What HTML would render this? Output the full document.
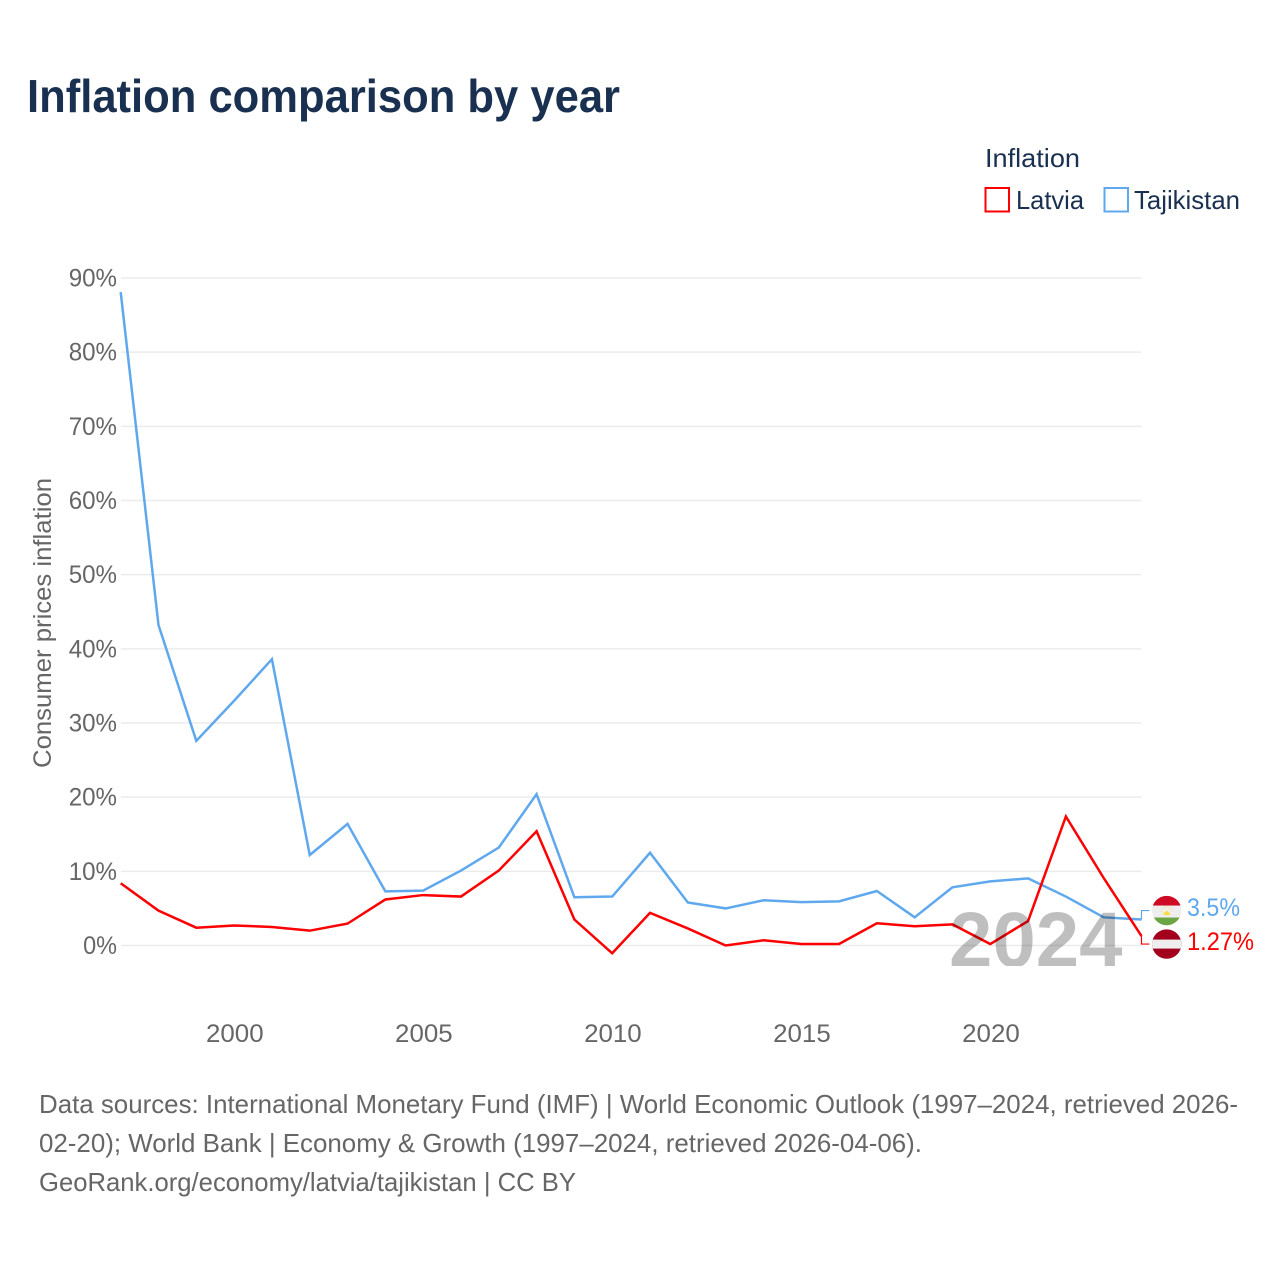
<!DOCTYPE html>
<html lang="en">
<head>
<meta charset="utf-8">
<title>Inflation comparison by year</title>
<style>
html,body{margin:0;padding:0;background:#fff;}
svg{display:block;font-family:"Liberation Sans",sans-serif;}
</style>
</head>
<body>
<svg id="chart" xmlns="http://www.w3.org/2000/svg" width="1280" height="1280" viewBox="0 0 1280 1280">
  <defs>
    <clipPath id="clip-watermark"><rect x="900" y="890" width="260" height="76"/></clipPath>
  </defs>
  <rect width="1280" height="1280" fill="#fff"/>
  <text x="27" y="112" font-size="46" font-weight="700" fill="#1a3050" textLength="593" lengthAdjust="spacingAndGlyphs">Inflation comparison by year</text>

  <g>
    <text x="985" y="167" font-size="26" fill="#1a3050" textLength="95" lengthAdjust="spacingAndGlyphs">Inflation</text>
    <g>
      <rect x="985.5" y="188" width="23.5" height="23.5" fill="none" stroke="#ff0000" stroke-width="2"/>
      <text x="1016" y="209" font-size="26" fill="#1a3050" textLength="68" lengthAdjust="spacingAndGlyphs">Latvia</text>
    </g>
    <g>
      <rect x="1104.5" y="188" width="23.5" height="23.5" fill="none" stroke="#5fa8ee" stroke-width="2"/>
      <text x="1134" y="209" font-size="26" fill="#1a3050" textLength="106" lengthAdjust="spacingAndGlyphs">Tajikistan</text>
    </g>
  </g>

  <text transform="translate(51 623) rotate(-90)" text-anchor="middle" font-size="25" fill="#666" textLength="290" lengthAdjust="spacingAndGlyphs">Consumer prices inflation</text>

  <g id="grid"></g>
  <g id="yticks"></g>
  <g id="xticks"></g>
  <g id="series"></g>
  <g id="ends"></g>

  <text x="1122.5" y="966.5" text-anchor="end" font-size="78" font-weight="700" fill="#000" fill-opacity="0.25" clip-path="url(#clip-watermark)">2024</text>

  <g font-size="26" fill="#666">
    <text x="39" y="1113" textLength="1199" lengthAdjust="spacingAndGlyphs">Data sources: International Monetary Fund (IMF) | World Economic Outlook (1997–2024, retrieved 2026-</text>
    <text x="39" y="1152" textLength="883" lengthAdjust="spacingAndGlyphs">02-20); World Bank | Economy &amp; Growth (1997–2024, retrieved 2026-04-06).</text>
    <text x="39" y="1191" textLength="537" lengthAdjust="spacingAndGlyphs">GeoRank.org/economy/latvia/tajikistan | CC BY</text>
  </g>
</svg>
<script>
const years = [1997,1998,1999,2000,2001,2002,2003,2004,2005,2006,2007,2008,2009,2010,2011,2012,2013,2014,2015,2016,2017,2018,2019,2020,2021,2022,2023,2024];
const latviaValues = [8.4,4.7,2.4,2.7,2.5,2.0,2.95,6.2,6.8,6.6,10.1,15.4,3.5,-1.05,4.4,2.3,0.0,0.7,0.2,0.2,3.0,2.6,2.85,0.2,3.3,17.4,9.1,1.27];
const tajikistanValues = [88.1,43.2,27.6,33.0,38.6,12.2,16.4,7.3,7.4,10.1,13.2,20.4,6.5,6.6,12.5,5.8,5.0,6.1,5.85,5.95,7.35,3.8,7.85,8.65,9.05,6.6,3.8,3.5];
const yTickValues = [0,10,20,30,40,50,60,70,80,90];
const yTickLabels = ["0%","10%","20%","30%","40%","50%","60%","70%","80%","90%"];
const xTickValues = [2000,2005,2010,2015,2020];
const xTickLabels = ["2000","2005","2010","2015","2020"];
const latviaEndLabel = "1.27%";
const tajikistanEndLabel = "3.5%";

const NS = "http://www.w3.org/2000/svg";
function xScale(year){ return 120.7 + (year - 1997) * (1141.5 - 120.7) / 27; }
function yScale(value){ return 945.5 - value * (945.5 - 278) / 90; }
function make(tag, parent, attrs){
  const el = document.createElementNS(NS, tag);
  for (const k in attrs) el.setAttribute(k, attrs[k]);
  parent.appendChild(el);
  return el;
}
function labelWidth(s){
  let w = 0;
  for (const c of s) w += c === "%" ? 19.5 : c === "." ? 7 : 14.4;
  return w;
}

const grid = document.getElementById("grid");
const yticks = document.getElementById("yticks");
yTickValues.forEach(function(v, i){
  const line = make("line", grid, {x1:121, x2:1141.5, y1:yScale(v), y2:yScale(v), stroke:"#ebebeb", "stroke-width":1.5});
  
  
  const t = make("text", yticks, {x:117, y:yScale(v)+8.5, "text-anchor":"end", "font-size":25, fill:"#666", textLength:labelWidth(yTickLabels[i]), lengthAdjust:"spacingAndGlyphs"});
  t.textContent = yTickLabels[i];
  
  
});

const xticks = document.getElementById("xticks");
xTickValues.forEach(function(v, i){
  const t = make("text", xticks, {x:xScale(v)+0.7, y:1042, "text-anchor":"middle", "font-size":25, fill:"#666", textLength:labelWidth(xTickLabels[i]), lengthAdjust:"spacingAndGlyphs"});
  t.textContent = xTickLabels[i];
  
  
});

function linePoints(values){
  return values.map(function(v, i){ return xScale(years[i]).toFixed(2) + "," + yScale(v).toFixed(2); }).join(" ");
}
const series = document.getElementById("series");
const tajikLine = make("polyline", series, {points:linePoints(tajikistanValues), fill:"none", stroke:"#5fa8ee", "stroke-width":2.5, "stroke-linejoin":"miter"});


const latviaLine = make("polyline", series, {points:linePoints(latviaValues), fill:"none", stroke:"#ff0000", "stroke-width":2.5, "stroke-linejoin":"miter"});



/* end-of-line labels: flags and values stay separated, so they sit at a fixed label slot offset from the line end */
const ends = document.getElementById("ends");
const lastX = xScale(years[years.length - 1]);
const tajikEndY = yScale(tajikistanValues[tajikistanValues.length - 1]);
const latviaEndY = yScale(latviaValues[latviaValues.length - 1]);
const tajikSlotY = tajikEndY - 9;
const latviaSlotY = latviaEndY + 8;

const tajikLeader = make("polyline", ends, {points:[lastX,tajikEndY,lastX,tajikSlotY,lastX+8,tajikSlotY].join(" "), fill:"none", stroke:"#5fa8ee", "stroke-width":1.2});


const latviaLeader = make("polyline", ends, {points:[lastX,latviaEndY,lastX,latviaSlotY,lastX+8,latviaSlotY].join(" "), fill:"none", stroke:"#ff0000", "stroke-width":1.2});



const defs = make("defs", ends, {});
const clipT = make("clipPath", defs, {id:"clip-tj"});
make("circle", clipT, {cx:1166.7, cy:tajikSlotY, r:14.7});
const clipL = make("clipPath", defs, {id:"clip-lv"});
make("circle", clipL, {cx:1166.7, cy:latviaSlotY, r:14.7});

const flagT = make("g", ends, {"clip-path":"url(#clip-tj)"});


make("rect", flagT, {x:1152, y:tajikSlotY-15, width:30, height:30, fill:"#eeeeee"});
make("rect", flagT, {x:1152, y:tajikSlotY-15, width:30, height:10, fill:"#cf0a25"});
make("rect", flagT, {x:1152, y:tajikSlotY+7, width:30, height:8, fill:"#6da544"});
make("path", flagT, {d:"M1163.5 " + (tajikSlotY+4.5) + "h6.5v-2l-1.6-1-1.6-1.4-1.6 1.4-1.7 1z", fill:"#ffda44"});
make("path", flagT, {d:"M1161.5 " + (tajikSlotY+1.5) + "a5.2 5.2 0 0 1 10.4 0", fill:"none", stroke:"#ffda44", "stroke-width":1, "stroke-dasharray":"1 1.6"});

const flagL = make("g", ends, {"clip-path":"url(#clip-lv)"});


make("rect", flagL, {x:1152, y:latviaSlotY-15, width:30, height:30, fill:"#a2001d"});
make("rect", flagL, {x:1152, y:latviaSlotY-4.5, width:30, height:9, fill:"#eeeeee"});

const tajikLabel = make("text", ends, {x:1187, y:tajikSlotY+5.5, "font-size":25, fill:"#5fa8ee", textLength:53, lengthAdjust:"spacingAndGlyphs"});
tajikLabel.textContent = tajikistanEndLabel;


const latviaLabel = make("text", ends, {x:1187, y:latviaSlotY+6, "font-size":25, fill:"#ff0000", textLength:67, lengthAdjust:"spacingAndGlyphs"});
latviaLabel.textContent = latviaEndLabel;


</script>
</body>
</html>
